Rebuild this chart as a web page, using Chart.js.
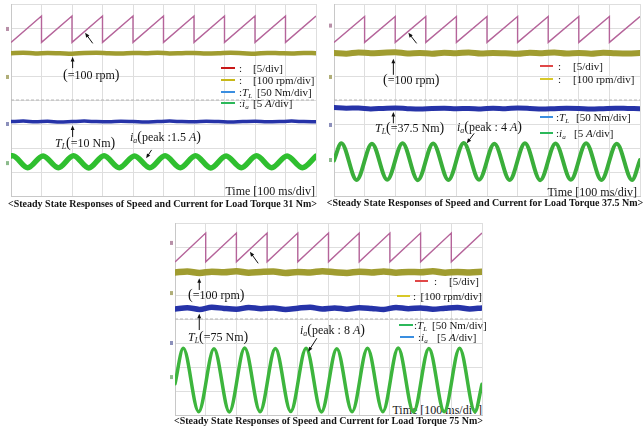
<!DOCTYPE html>
<html><head><meta charset="utf-8">
<script src="https://cdn.jsdelivr.net/npm/chart.js@4.4.1/dist/chart.umd.min.js"></script>
<style>
html,body{margin:0;padding:0;background:#fff;}
#wrap{position:relative;width:643px;height:430px;overflow:hidden;font-family:"Liberation Serif","Times New Roman",serif;color:#151515;}
canvas{position:absolute;z-index:1;}
.t{position:absolute;white-space:nowrap;line-height:1;transform:translateY(-50%);font-size:12px;z-index:2;}
.lg{font-size:11px;}
.sw{position:absolute;height:2px;z-index:2;}
.cap{position:absolute;font-weight:bold;font-size:10px;white-space:nowrap;transform:translate(-50%,-50%);line-height:1;z-index:2;}
.p{font-size:14px;}
sub{font-size:65%;vertical-align:-0.3em;line-height:0;}
.under{z-index:0;}
</style></head>
<body><div id="wrap">
<canvas id="c1"></canvas><canvas id="c2"></canvas><canvas id="c3"></canvas>

<!-- Panel 1 texts -->
<div class="t" style="left:63px;top:75px"><span class="p">(</span>=100 rpm<span class="p">)</span></div>
<div class="t" style="left:55px;top:143px"><i>T<sub>L</sub></i><span class="p">(</span>=10 Nm<span class="p">)</span></div>
<div class="t" style="left:130px;top:137px"><i>i<sub>a</sub></i><span class="p">(</span>peak :1.5 <i>A</i><span class="p">)</span></div>
<div class="sw" style="left:221px;top:67px;width:14px;background:#c81818"></div>
<div class="t lg" style="left:239px;top:68px">:</div><div class="t lg" style="left:253px;top:68px">[5/div]</div>
<div class="sw" style="left:221px;top:79px;width:14px;background:#c8b818"></div>
<div class="t lg" style="left:239px;top:80px">:</div><div class="t lg" style="left:253px;top:80px">[100 rpm/div]</div>
<div class="sw" style="left:221px;top:91px;width:14px;background:#3a8ee0"></div>
<div class="t lg" style="left:239px;top:92px">:<i>T<sub>L</sub></i></div><div class="t lg" style="left:257px;top:92px">[50 Nm/div]</div>
<div class="sw" style="left:221px;top:102px;width:14px;background:#2cb85a"></div>
<div class="t lg" style="left:239px;top:103px">:<i>i<sub>a</sub></i></div><div class="t lg" style="left:253px;top:103px">[5 <i>A</i>/div]</div>
<div class="t" style="right:328px;top:191px">Time [100 ms/div]</div>
<div class="cap" style="left:162.5px;top:204px">&lt;Steady State Responses of Speed and Current for Load Torque 31 Nm&gt;</div>

<!-- Panel 2 texts -->
<div class="t" style="left:383px;top:80px"><span class="p">(</span>=100 rpm<span class="p">)</span></div>
<div class="t" style="left:375px;top:128px"><i>T<sub>L</sub></i><span class="p">(</span>=37.5 Nm<span class="p">)</span></div>
<div class="t" style="left:457px;top:127px"><i>i<sub>a</sub></i><span class="p">(</span>peak : 4 <i>A</i><span class="p">)</span></div>
<div class="sw" style="left:540px;top:65px;width:13px;background:#e04848"></div>
<div class="t lg" style="left:558px;top:66px">:</div><div class="t lg" style="left:573px;top:66px">[5/div]</div>
<div class="sw" style="left:540px;top:78px;width:13px;background:#d8c828"></div>
<div class="t lg" style="left:558px;top:79px">:</div><div class="t lg" style="left:573px;top:79px">[100 rpm/div]</div>
<div class="sw" style="left:540px;top:116px;width:13px;background:#3a8ee0"></div>
<div class="t lg" style="left:556px;top:117px">:<i>T<sub>L</sub></i></div><div class="t lg" style="left:576px;top:117px">[50 Nm/div]</div>
<div class="sw" style="left:540px;top:132px;width:13px;background:#2cb85a"></div>
<div class="t lg" style="left:556px;top:133px">:<i>i<sub>a</sub></i></div><div class="t lg" style="left:574px;top:133px">[5 <i>A</i>/div]</div>
<div class="t" style="right:6px;top:192px">Time [100 ms/div]</div>
<div class="cap" style="left:485px;top:203px">&lt;Steady State Responses of Speed and Current for Load Torque 37.5 Nm&gt;</div>

<!-- Panel 3 texts -->
<div class="t" style="left:188px;top:295px"><span class="p">(</span>=100 rpm<span class="p">)</span></div>
<div class="t" style="left:188px;top:337px"><i>T<sub>L</sub></i><span class="p">(</span>=75 Nm<span class="p">)</span></div>
<div class="t" style="left:300px;top:330px"><i>i<sub>a</sub></i><span class="p">(</span>peak : 8 <i>A</i><span class="p">)</span></div>
<div class="sw" style="left:415px;top:280px;width:13px;background:#e04848"></div>
<div class="t lg" style="left:434px;top:281px">:</div><div class="t lg" style="left:449px;top:281px">[5/div]</div>
<div class="sw" style="left:397px;top:295px;width:13px;background:#d8c828"></div>
<div class="t lg" style="left:413px;top:296px">:</div><div class="t lg" style="right:161px;top:296px">[100 rpm/div]</div>
<div class="sw" style="left:399px;top:324px;width:14px;background:#2cb85a"></div>
<div class="t lg" style="left:414px;top:325px">:<i>T<sub>L</sub></i></div><div class="t lg" style="left:432px;top:325px">[50 Nm/div]</div>
<div class="sw" style="left:400px;top:336px;width:14px;background:#3a8ee0"></div>
<div class="t lg" style="left:418px;top:337px">:<i>i<sub>a</sub></i></div><div class="t lg" style="left:437px;top:337px">[5 <i>A</i>/div]</div>
<div class="t under" style="right:161px;top:410px">Time [100 ms/div]</div>
<div class="cap" style="left:328.5px;top:421px">&lt;Steady State Responses of Speed and Current for Load Torque 75 Nm&gt;</div>
</div>
<script>
// ---------- DATA (time in ms, values in screen divisions from centre) ----------
const sawTimes = [0,100,100,200,200,300,300,400,400,500,500,600,600,700,700,800,800,900,900,1000];
const sawP1 = [2.4,3.5,2.4,3.5,2.4,3.5,2.4,3.5,2.4,3.5,2.4,3.5,2.4,3.5,2.4,3.5,2.4,3.5,2.4,3.5];
const sawP2 = [2.4,3.48,2.4,3.48,2.4,3.48,2.4,3.48,2.4,3.48,2.4,3.48,2.4,3.48,2.4,3.48,2.4,3.48,2.4,3.48];
const sawP3 = [2.38,3.58,2.38,3.58,2.38,3.58,2.38,3.58,2.38,3.58,2.38,3.58,2.38,3.58,2.38,3.58,2.38,3.58,2.38,3.58];

const noiseTimes = [0,40,80,120,160,200,240,280,320,360,400,440,480,520,560,600,640,680,720,760,800,840,880,920,960,1000];
const speedP1 = [1.95,1.97,1.94,1.96,1.95,1.93,1.96,1.97,1.95,1.94,1.96,1.95,1.97,1.94,1.95,1.96,1.94,1.95,1.97,1.95,1.93,1.96,1.95,1.94,1.96,1.95];
const torqueP1 = [-0.9,-0.88,-0.91,-0.89,-0.92,-0.9,-0.88,-0.9,-0.91,-0.89,-0.9,-0.92,-0.9,-0.88,-0.9,-0.91,-0.89,-0.9,-0.92,-0.9,-0.89,-0.91,-0.9,-0.88,-0.9,-0.91];
const speedP2 = [1.96,1.93,1.98,1.95,1.97,1.99,1.94,1.96,1.93,1.97,1.95,1.98,1.94,1.96,1.95,1.93,1.97,1.95,1.98,1.94,1.96,1.93,1.97,1.95,1.94,1.96];
const torqueP2 = [-0.31,-0.34,-0.33,-0.37,-0.35,-0.33,-0.36,-0.38,-0.35,-0.34,-0.36,-0.35,-0.37,-0.34,-0.36,-0.33,-0.35,-0.38,-0.36,-0.34,-0.35,-0.38,-0.36,-0.34,-0.35,-0.36];
const speedP3 = [1.94,1.98,1.92,1.97,1.95,1.99,1.93,1.96,1.98,1.92,1.96,1.94,1.99,1.95,1.92,1.97,1.94,1.98,1.93,1.96,1.95,1.99,1.93,1.96,1.94,1.97];
const torqueP3 = [0.42,0.47,0.4,0.49,0.44,0.41,0.48,0.43,0.46,0.4,0.45,0.49,0.42,0.46,0.41,0.47,0.44,0.4,0.48,0.43,0.46,0.41,0.45,0.48,0.42,0.46];

const currTimesP1 = [0,5,55,105,155,205,255,305,355,405,455,505,555,605,655,705,755,805,855,905,955,1000];
const currP1 = [-2.33,-2.32,-2.82,-2.33,-2.82,-2.32,-2.83,-2.32,-2.82,-2.33,-2.82,-2.32,-2.82,-2.32,-2.83,-2.33,-2.82,-2.32,-2.82,-2.33,-2.82,-2.34];
const currTimesP2 = [0,24,74,124,174,224,274,324,374,424,474,524,574,624,674,724,774,824,874,924,974,1000];
const currP2 = [-2.52,-1.8,-3.33,-1.82,-3.32,-1.8,-3.34,-1.81,-3.33,-1.79,-3.32,-1.82,-3.33,-1.8,-3.34,-1.81,-3.32,-1.8,-3.33,-1.82,-3.33,-2.5];
const currTimesP3 = [0,27,77,127,177,227,277,327,377,427,477,527,577,627,677,727,777,827,877,927,977,1000];
const currP3 = [-2.7,-1.22,-3.86,-1.24,-3.87,-1.21,-3.86,-1.23,-3.85,-1.22,-3.87,-1.24,-3.86,-1.22,-3.86,-1.21,-3.87,-1.23,-3.86,-1.22,-3.86,-2.72];

const markerLevelsP1 = [2.96,0.96,-1.0,-2.63];
const markerLevelsP2 = [3.1,0.96,-1.04,-2.5];
const markerLevelsP3 = [3.17,1.08,-1.0,-2.42];
const markerColors = ['#b890a8', '#b0ae78', '#8c90bb', '#8cbb8c'];

// arrows: [fromT, fromY, toT, toY] in data units (tip at "to")
const arrowsP1 = [[268,2.36,243,2.8],[202,1.33,202,1.8],[202,-1.54,202,-1.06],[461,-2.08,443,-2.43]];
const arrowsP2 = [[270,2.36,243,2.8],[194,1.05,194,1.72],[194,-0.97,194,-0.5],[458,-1.39,434,-1.8]];
const arrowsP3 = [[271,2.32,244,2.8],[79,1.21,79,1.7],[79,-0.46,79,0.22],[462,-0.8,434,-1.36]];

// ---------- CHARTS ----------
const pts = (ts, vs) => ts.map((t, i) => ({x: t, y: vs[i]}));

const annotPlugin = {
  id: 'annot',
  afterDatasetsDraw(chart, args, opts) {
    const {ctx, chartArea, scales: {x, y}} = chart;
    ctx.save();
    // channel level markers just left of the graticule
    (opts.markers || []).forEach((v, i) => {
      ctx.fillStyle = markerColors[i];
      ctx.fillRect(chartArea.left - 5, y.getPixelForValue(v) - 2, 3, 4);
    });
    ctx.strokeStyle = '#111'; ctx.fillStyle = '#111'; ctx.lineWidth = 1;
    (opts.arrows || []).forEach(a => {
      const x1 = x.getPixelForValue(a[0]), y1 = y.getPixelForValue(a[1]);
      const x2 = x.getPixelForValue(a[2]), y2 = y.getPixelForValue(a[3]);
      const ang = Math.atan2(y2 - y1, x2 - x1);
      ctx.beginPath(); ctx.moveTo(x1, y1); ctx.lineTo(x2 - 3 * Math.cos(ang), y2 - 3 * Math.sin(ang)); ctx.stroke();
      ctx.beginPath(); ctx.moveTo(x2, y2);
      ctx.lineTo(x2 - 5 * Math.cos(ang - 0.4), y2 - 5 * Math.sin(ang - 0.4));
      ctx.lineTo(x2 - 5 * Math.cos(ang + 0.4), y2 - 5 * Math.sin(ang + 0.4));
      ctx.closePath(); ctx.fill();
    });
    ctx.restore();
  }
};

function makeChart(id, rect, cfg) {
  const pad = {left: 8, right: 4, top: 4, bottom: 4};
  const cv = document.getElementById(id);
  cv.width = rect.w + pad.left + pad.right;
  cv.height = rect.h + pad.top + pad.bottom;
  cv.style.left = (rect.x - pad.left) + 'px';
  cv.style.top = (rect.y - pad.top) + 'px';
  const line = (data, color, width, extra) => Object.assign({
    data, borderColor: color, borderWidth: width, pointRadius: 0, fill: false,
    borderJoinStyle: 'round', borderCapStyle: 'round', tension: 0
  }, extra || {});
  const datasets = [
    line([{x: 0, y: 0}, {x: 1000, y: 0}], '#b4b4b4', 1, {borderDash: [3, 2], borderCapStyle: 'butt'}),
    line(pts(cfg.currTimes, cfg.curr), cfg.green, cfg.gw, {cubicInterpolationMode: 'monotone'}),
    line(pts(noiseTimes, cfg.torque), '#2633a8', cfg.bw, {cubicInterpolationMode: 'monotone'}),
    line(pts(noiseTimes, cfg.speed), '#a09c30', cfg.yw, {cubicInterpolationMode: 'monotone'}),
    line(pts(sawTimes, cfg.saw), '#b5649a', 1.4, {borderJoinStyle: 'miter', borderCapStyle: 'butt'})
  ];
  return new Chart(cv, {
    type: 'line',
    data: {datasets},
    options: {
      responsive: false, animation: false, devicePixelRatio: 1,
      layout: {padding: pad},
      plugins: {legend: {display: false}, tooltip: {enabled: false},
                annot: {arrows: cfg.arrows, markers: cfg.markers}},
      scales: {
        x: {type: 'linear', min: 0, max: 1000, ticks: {display: false, stepSize: 100},
            grid: {color: '#dedede', drawTicks: false}, border: {color: '#c8c8c8'}},
        y: {type: 'linear', min: -4, max: 4, ticks: {display: false, stepSize: 1},
            grid: {color: '#dedede', drawTicks: false}, border: {color: '#c8c8c8'}}
      }
    },
    plugins: [annotPlugin]
  });
}

makeChart('c1', {x: 11, y: 4, w: 305, h: 192},
  {saw: sawP1, speed: speedP1, torque: torqueP1, currTimes: currTimesP1, curr: currP1,
   green: '#2fbf2f', gw: 5.5, bw: 3.5, yw: 4.5, markers: markerLevelsP1, arrows: arrowsP1});
makeChart('c2', {x: 334, y: 4, w: 306, h: 192},
  {saw: sawP2, speed: speedP2, torque: torqueP2, currTimes: currTimesP2, curr: currP2,
   green: '#3aae3a', gw: 4, bw: 5, yw: 6, markers: markerLevelsP2, arrows: arrowsP2});
makeChart('c3', {x: 175, y: 223, w: 307, h: 192},
  {saw: sawP3, speed: speedP3, torque: torqueP3, currTimes: currTimesP3, curr: currP3,
   green: '#3db53d', gw: 3.5, bw: 5.5, yw: 6.5, markers: markerLevelsP3, arrows: arrowsP3});
</script>
</body></html>
